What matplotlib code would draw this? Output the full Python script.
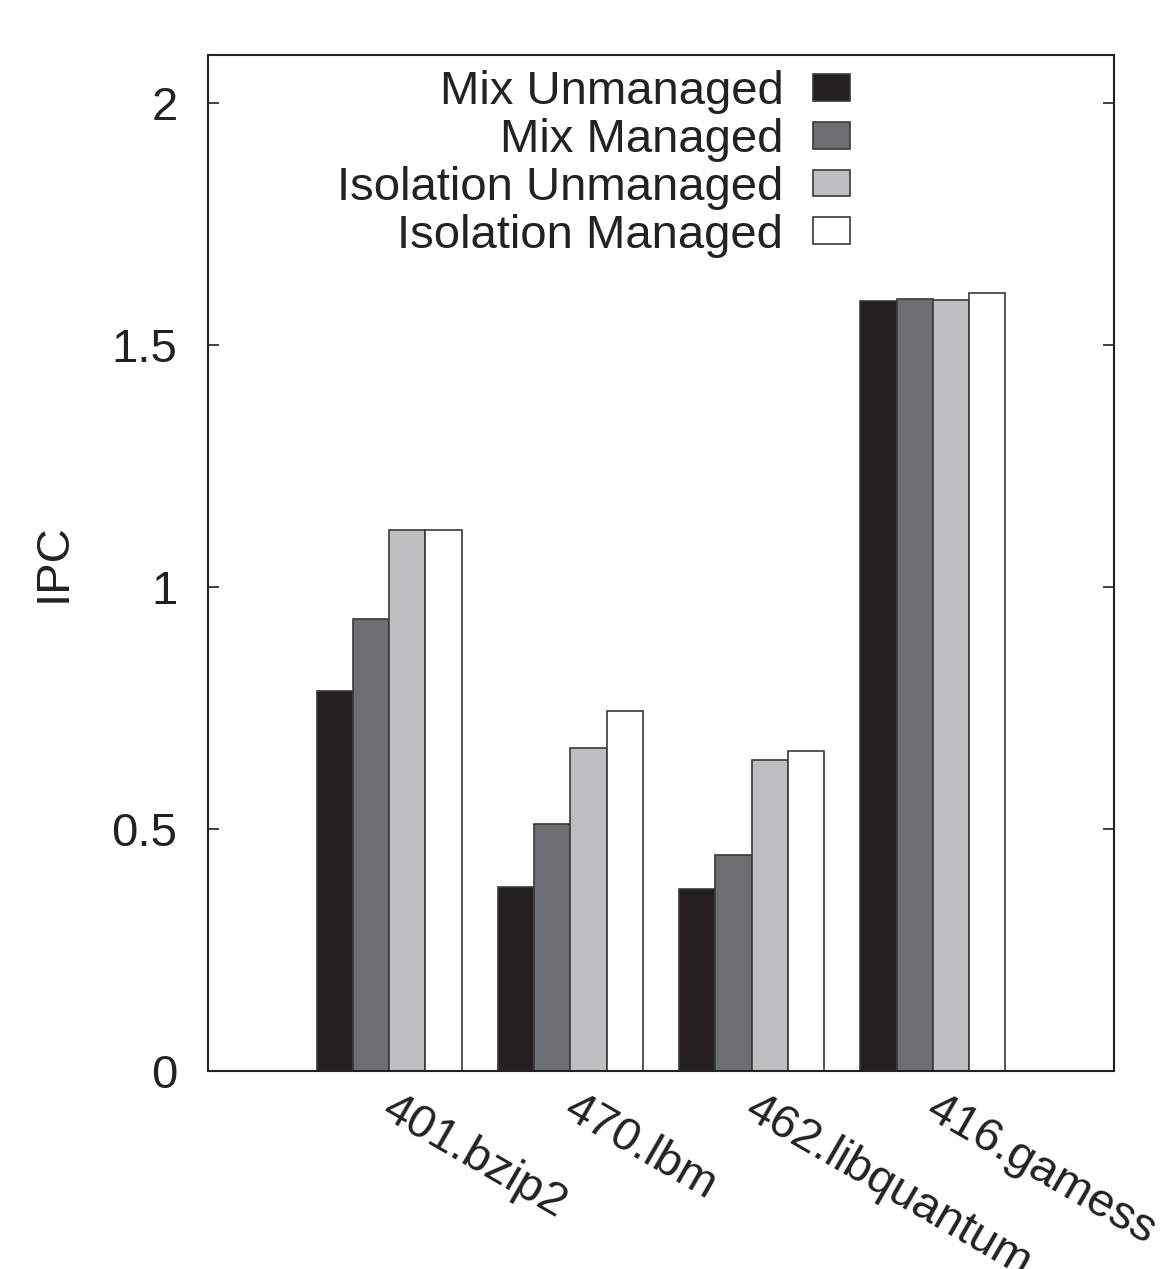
import numpy as np
import matplotlib

matplotlib.use("Agg")
import matplotlib.pyplot as plt

plt.rcParams.update(
    {
        "font.family": "sans-serif",
        "font.sans-serif": ["Liberation Sans", "DejaVu Sans"],
        "font.size": 34,
    }
)

benchmarks = ["401.bzip2", "470.lbm", "462.libquantum", "416.gamess"]
series = ["Mix Unmanaged", "Mix Managed", "Isolation Unmanaged", "Isolation Managed"]
mix_unmanaged = [0.785, 0.380, 0.376, 1.591]
mix_managed = [0.934, 0.510, 0.446, 1.595]
iso_unmanaged = [1.118, 0.667, 0.643, 1.593]
iso_managed = [1.119, 0.744, 0.661, 1.607]
values = [mix_unmanaged, mix_managed, iso_unmanaged, iso_managed]
colors = ["#231f20", "#6d6e71", "#bcbec0", "#ffffff"]

fig = plt.figure(figsize=(11.64, 12.69), dpi=100)
ax = fig.add_axes([0.1787, 0.156, 0.7783, 0.8007])

x = np.arange(len(benchmarks))
width = 0.2
for i, (name, vals, c) in enumerate(zip(series, values, colors)):
    ax.bar(
        x + (i - 1.5) * width,
        vals,
        width,
        color=c,
        edgecolor="#3a3a3a",
        linewidth=1.2,
        label=name,
    )

ax.set_xlim(-1, 4)
ax.set_ylim(0, 2.1)
ax.set_yticks([0, 0.5, 1, 1.5, 2])
ax.set_yticklabels(["0", "0.5", "1", "1.5", "2"])
ax.set_xticks([])
ax.tick_params(axis="y", direction="in", length=8, width=1.2, right=True, pad=22,
               colors="#222222")
for s in ax.spines.values():
    s.set_linewidth(1.5)
    s.set_color("#222222")

# rotated category labels below the axis
for xi, lab in zip(x, benchmarks):
    ax.text(
        xi + 0.045,
        -0.033,
        lab,
        rotation=-30,
        rotation_mode="anchor",
        ha="left",
        va="top",
        transform=ax.transData,
        color="#222222",
    )

ax.set_ylabel("IPC", labelpad=26, color="#222222")

leg = ax.legend(
    loc="upper right",
    bbox_to_anchor=(0.709, 0.985),
    markerfirst=False,
    frameon=False,
    handlelength=0.8,
    handleheight=0.5,
    handletextpad=0.62,
    labelspacing=0.08,
    borderaxespad=0,
    borderpad=0,
)
for t in leg.get_texts():
    t.set_ha("right")
    t.set_color("#222222")

fig.savefig("out.png", dpi=100, facecolor="white")
